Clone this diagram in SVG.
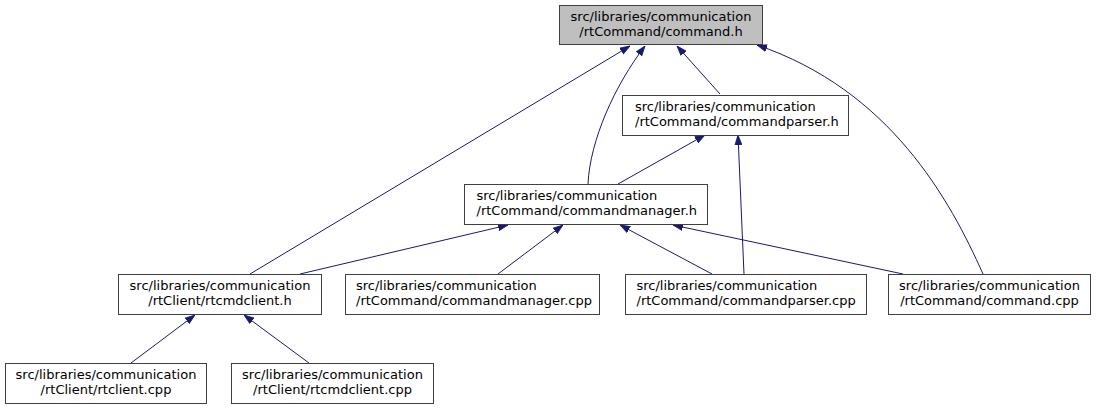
<svg xmlns="http://www.w3.org/2000/svg" width="1097" height="409" viewBox="0 0 1097 409">
<style>
  .node rect { fill: #ffffff; stroke: #404040; stroke-width: 1; }
  .node.cur rect { fill: #bfbfbf; }
  .node text { font-family: "DejaVu Sans", sans-serif; font-size: 13px; fill: #000000; text-anchor: middle; }
  .node text.l { text-anchor: start; }
  .edges path { fill: none; stroke: #191970; stroke-width: 1; marker-end: url(#arr); }
</style>
<defs>
  <marker id="arr" viewBox="0 0 10 8" refX="10" refY="4" markerWidth="10" markerHeight="8" markerUnits="userSpaceOnUse" orient="auto">
    <path d="M0,0.5 L10,4 L0,7.5 z" fill="#191970" stroke="#191970" stroke-width="0.8"/>
  </marker>
</defs>
<rect x="0" y="0" width="1097" height="409" fill="#ffffff"/>
<g id="edges" class="edges">
  <path d="M588,184 C590,140 615,85 645,46"/>
  <path d="M720,94 L677,46"/>
  <path d="M983,274 C950,200 890,90 757,45"/>
  <path d="M250,274 L630,46"/>
  <path d="M618,184 L705,135"/>
  <path d="M744,274 L738,135"/>
  <path d="M300,274 L508,225"/>
  <path d="M498,274 L563,225"/>
  <path d="M712,274 L620,225"/>
  <path d="M903,274 L673,225"/>
  <path d="M131,363 L195,315"/>
  <path d="M309,363 L244,315"/>
</g>
<g id="node-command-h" class="node cur">
  <rect x="559.5" y="5.5" width="203" height="39"/>
  <text x="661" y="20.5">src/libraries/communication</text>
  <text x="661" y="35.5">/rtCommand/command.h</text>
</g>
<g id="node-commandparser-h" class="node">
  <rect x="622.5" y="95.5" width="226" height="40"/>
  <text class="l" x="635" y="110.5">src/libraries/communication</text>
  <text class="l" x="635" y="125.5">/rtCommand/commandparser.h</text>
</g>
<g id="node-commandmanager-h" class="node">
  <rect x="464.5" y="184.5" width="243" height="40"/>
  <text class="l" x="476.5" y="199.5">src/libraries/communication</text>
  <text class="l" x="476.5" y="214.5">/rtCommand/commandmanager.h</text>
</g>
<g id="node-rtcmdclient-h" class="node">
  <rect x="118.5" y="274.5" width="203" height="40"/>
  <text x="220" y="289.5">src/libraries/communication</text>
  <text x="220" y="304.5">/rtClient/rtcmdclient.h</text>
</g>
<g id="node-commandmanager-cpp" class="node">
  <rect x="345.5" y="274.5" width="254" height="40"/>
  <text class="l" x="356" y="289.5">src/libraries/communication</text>
  <text class="l" x="356" y="304.5">/rtCommand/commandmanager.cpp</text>
</g>
<g id="node-commandparser-cpp" class="node">
  <rect x="625.5" y="274.5" width="241" height="40"/>
  <text class="l" x="636.5" y="289.5">src/libraries/communication</text>
  <text class="l" x="636.5" y="304.5">/rtCommand/commandparser.cpp</text>
</g>
<g id="node-command-cpp" class="node">
  <rect x="888.5" y="274.5" width="202" height="40"/>
  <text x="989.5" y="289.5">src/libraries/communication</text>
  <text x="989.5" y="304.5">/rtCommand/command.cpp</text>
</g>
<g id="node-rtclient-cpp" class="node">
  <rect x="5.5" y="363.5" width="201" height="40"/>
  <text x="106" y="378.5">src/libraries/communication</text>
  <text x="106" y="393.5">/rtClient/rtclient.cpp</text>
</g>
<g id="node-rtcmdclient-cpp" class="node">
  <rect x="231.5" y="363.5" width="202" height="40"/>
  <text x="332.5" y="378.5">src/libraries/communication</text>
  <text x="332.5" y="393.5">/rtClient/rtcmdclient.cpp</text>
</g>
</svg>
